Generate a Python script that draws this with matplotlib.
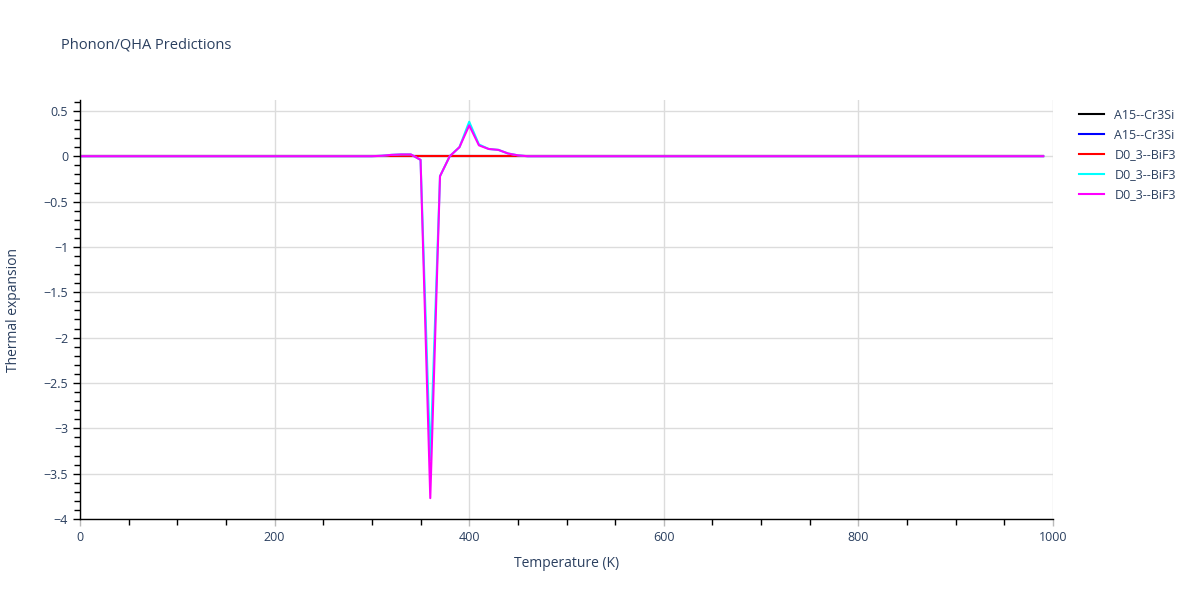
import matplotlib
matplotlib.use("Agg")
import matplotlib.pyplot as plt
from matplotlib.ticker import MultipleLocator, FuncFormatter

# Temperatures (K), 0..990 in steps of 10
temperature = list(range(0, 1000, 10))

# Values (non-zero region 300-460 K)
spike_T = [300, 310, 320, 330, 340, 350, 360, 370, 380, 390, 400, 410, 420, 430, 440, 450, 460]
cyan_spike = [0.0, 0.005, 0.015, 0.02, 0.02, -0.04, -3.35, -0.22, 0.0, 0.1, 0.38, 0.13, 0.08, 0.07, 0.03, 0.01, 0.0]
magenta_spike = [0.0, 0.005, 0.015, 0.02, 0.02, -0.04, -3.77, -0.22, 0.0, 0.1, 0.34, 0.12, 0.08, 0.07, 0.03, 0.01, 0.0]

a15_black = [0.0] * len(temperature)
a15_blue = [0.0] * len(temperature)
d03_red = [0.0] * len(temperature)

def build(spike):
    vals = [0.0] * len(temperature)
    for t, v in zip(spike_T, spike):
        vals[temperature.index(t)] = v
    return vals

d03_cyan = build(cyan_spike)
d03_magenta = build(magenta_spike)

labels = ["A15--Cr3Si", "A15--Cr3Si", "D0_3--BiF3", "D0_3--BiF3", "D0_3--BiF3"]
colors = ["#000000", "#0000ff", "#ff0000", "#00ffff", "#ff00ff"]
series = [a15_black, a15_blue, d03_red, d03_cyan, d03_magenta]

text_color = "#2a3f5f"
plt.rcParams['font.family'] = ['Open Sans', 'DejaVu Sans']

fig = plt.figure(figsize=(12, 6), dpi=100)
ax = fig.add_axes([80/1200, 1 - 519/600, (1053-80)/1200, (519-100)/600])

for vals, c, lab in zip(series, colors, labels):
    ax.plot(temperature, vals, color=c, linewidth=1.5, label=lab)

ax.set_xlim(0, 1000)
ax.set_ylim(-4, 0.62)

ax.xaxis.set_major_locator(MultipleLocator(200))
ax.xaxis.set_minor_locator(MultipleLocator(50))
ax.yaxis.set_major_locator(MultipleLocator(0.5))
ax.yaxis.set_minor_locator(MultipleLocator(0.1))

fmt = FuncFormatter(lambda v, p: ("%g" % round(v, 3)).replace("-", "\u2212"))
ax.xaxis.set_major_formatter(fmt)
ax.yaxis.set_major_formatter(fmt)

ax.grid(True, which='major', color='#dcdcdc', linewidth=1)
ax.set_axisbelow(True)

for s in ['top', 'right']:
    ax.spines[s].set_visible(False)
for s in ['left', 'bottom']:
    ax.spines[s].set_color('black')
    ax.spines[s].set_linewidth(1)

ax.tick_params(axis='both', which='major', length=5, color='black', labelcolor=text_color, labelsize=9, width=1)
ax.tick_params(axis='x', which='major', color='#bbbbbb')
ax.tick_params(axis='both', which='minor', length=4, color='black', width=1)

ax.set_xlabel("Temperature (K)", color=text_color, fontsize=10, labelpad=9)
ax.set_ylabel("Thermal expansion", color=text_color, fontsize=10, labelpad=16)

fig.text(61/1200, 1 - 45/600, "Phonon/QHA Predictions", color=text_color, fontsize=10.5, va='center', ha='left')

leg = ax.legend(loc='upper left', bbox_to_anchor=(1.018, 1.0), frameon=False,
                fontsize=9, handlelength=2.0, labelspacing=0.55, borderaxespad=0.3)
for t in leg.get_texts():
    t.set_color(text_color)

fig.savefig("out.png", dpi=100)
